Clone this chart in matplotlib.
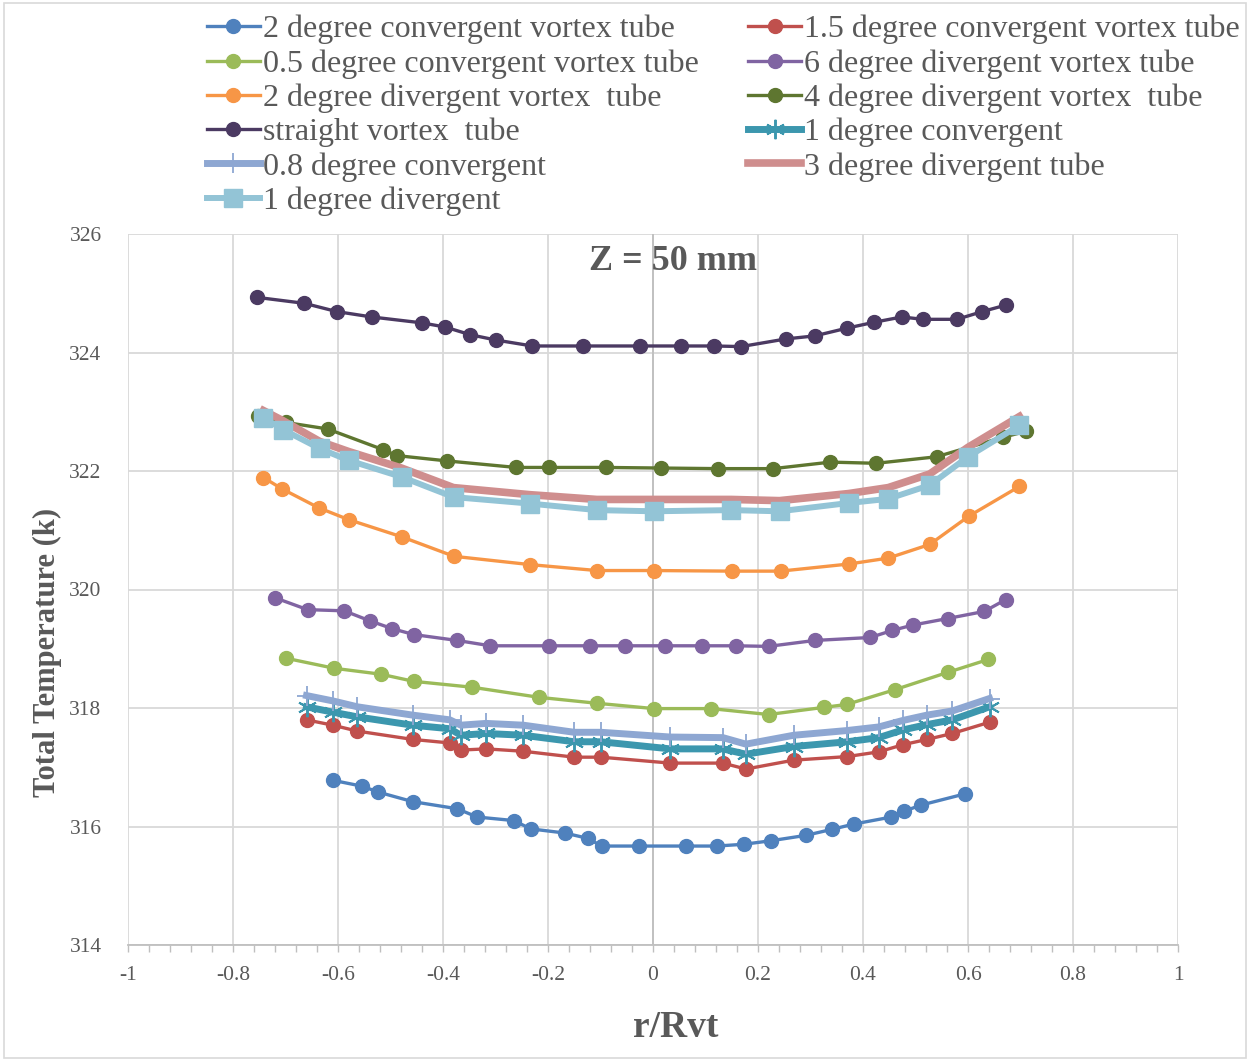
import matplotlib.pyplot as plt
from matplotlib.patches import Rectangle
from matplotlib.ticker import MultipleLocator

plt.rcParams['font.family'] = ['Liberation Serif', 'DejaVu Serif']

# --- data (r/Rvt, total temperature in K) ---
x_2conv = [-0.610, -0.554, -0.523, -0.458, -0.373, -0.335, -0.265, -0.233, -0.168, -0.124, -0.098, -0.027,
           0.063, 0.121, 0.173, 0.225, 0.291, 0.340, 0.382, 0.454, 0.479, 0.510, 0.594]
t_2conv = [316.78, 316.68, 316.58, 316.42, 316.30, 316.16, 316.10, 315.96, 315.89, 315.80, 315.67, 315.67,
           315.67, 315.67, 315.70, 315.76, 315.85, 315.95, 316.04, 316.16, 316.26, 316.36, 316.55]

x_15conv = [-0.660, -0.610, -0.563, -0.458, -0.387, -0.366, -0.318, -0.247, -0.150, -0.099,
            0.033, 0.133, 0.177, 0.268, 0.370, 0.430, 0.476, 0.522, 0.570, 0.641]
t_15conv = [317.80, 317.71, 317.61, 317.47, 317.41, 317.29, 317.31, 317.27, 317.17, 317.17,
            317.07, 317.07, 316.97, 317.12, 317.18, 317.26, 317.38, 317.47, 317.57, 317.76]

x_05conv = [-0.699, -0.607, -0.518, -0.456, -0.344, -0.217, -0.107, 0.002, 0.110, 0.220,
            0.325, 0.369, 0.461, 0.561, 0.639]
t_05conv = [318.84, 318.67, 318.57, 318.45, 318.35, 318.18, 318.08, 317.99, 317.99, 317.89,
            318.01, 318.06, 318.31, 318.60, 318.82]

x_6div = [-0.720, -0.658, -0.588, -0.539, -0.497, -0.456, -0.373, -0.310, -0.199, -0.120, -0.054,
          0.023, 0.093, 0.158, 0.220, 0.308, 0.414, 0.456, 0.495, 0.561, 0.631, 0.672]
t_6div = [319.86, 319.66, 319.64, 319.47, 319.34, 319.24, 319.14, 319.05, 319.05, 319.05, 319.05,
          319.05, 319.05, 319.05, 319.04, 319.14, 319.19, 319.31, 319.40, 319.51, 319.63, 319.83]

x_2div = [-0.742, -0.707, -0.637, -0.580, -0.479, -0.379, -0.234, -0.107, 0.001,
          0.151, 0.243, 0.373, 0.448, 0.527, 0.602, 0.698]
t_2div = [321.89, 321.70, 321.38, 321.18, 320.89, 320.56, 320.42, 320.32, 320.32,
          320.31, 320.31, 320.43, 320.53, 320.76, 321.24, 321.74]

x_4div = [-0.752, -0.700, -0.620, -0.514, -0.488, -0.392, -0.261, -0.199, -0.090, 0.015,
          0.124, 0.229, 0.338, 0.425, 0.540, 0.667, 0.711]
t_4div = [322.92, 322.82, 322.71, 322.36, 322.26, 322.17, 322.06, 322.06, 322.06, 322.05,
          322.04, 322.04, 322.15, 322.13, 322.24, 322.57, 322.67]

x_straight = [-0.754, -0.664, -0.602, -0.536, -0.440, -0.396, -0.348, -0.299, -0.230, -0.134, -0.024,
              0.054, 0.116, 0.168, 0.254, 0.308, 0.369, 0.421, 0.474, 0.514, 0.579, 0.627, 0.672]
t_straight = [324.93, 324.83, 324.69, 324.60, 324.50, 324.43, 324.30, 324.21, 324.11, 324.11, 324.11,
              324.11, 324.11, 324.10, 324.23, 324.28, 324.41, 324.51, 324.60, 324.56, 324.56, 324.69, 324.80]

x_1conv = [-0.660, -0.610, -0.563, -0.458, -0.387, -0.366, -0.318, -0.247, -0.150, -0.099,
           0.033, 0.133, 0.177, 0.268, 0.370, 0.430, 0.476, 0.522, 0.570, 0.641]
t_1conv = [318.02, 317.93, 317.85, 317.71, 317.65, 317.54, 317.57, 317.54, 317.43, 317.43,
           317.31, 317.31, 317.22, 317.35, 317.43, 317.50, 317.63, 317.72, 317.80, 318.02]

x_08conv = [-0.660, -0.610, -0.563, -0.458, -0.387, -0.366, -0.318, -0.247, -0.150, -0.099,
            0.033, 0.133, 0.177, 0.268, 0.370, 0.430, 0.476, 0.522, 0.570, 0.641]
t_08conv = [318.21, 318.12, 318.02, 317.88, 317.80, 317.71, 317.74, 317.71, 317.59, 317.59,
            317.51, 317.50, 317.39, 317.54, 317.62, 317.68, 317.79, 317.88, 317.95, 318.16]

x_3div = [-0.742, -0.705, -0.635, -0.580, -0.479, -0.380, -0.234, -0.107, 0.001,
          0.149, 0.241, 0.373, 0.448, 0.527, 0.600, 0.698]
t_3div = [323.02, 322.85, 322.50, 322.33, 322.05, 321.72, 321.60, 321.52, 321.52,
          321.52, 321.50, 321.62, 321.72, 321.95, 322.40, 322.92]

x_1div = [-0.742, -0.705, -0.635, -0.580, -0.479, -0.380, -0.234, -0.107, 0.001,
          0.149, 0.241, 0.373, 0.448, 0.527, 0.600, 0.698]
t_1div = [322.90, 322.70, 322.38, 322.18, 321.90, 321.56, 321.45, 321.34, 321.32,
          321.34, 321.32, 321.46, 321.53, 321.76, 322.24, 322.77]

x_ticks = [-1, -0.8, -0.6, -0.4, -0.2, 0, 0.2, 0.4, 0.6, 0.8, 1]
x_tick_labels = ['-1', '-0.8', '-0.6', '-0.4', '-0.2', '0', '0.2', '0.4', '0.6', '0.8', '1']
y_ticks = [314, 316, 318, 320, 322, 324, 326]

grey = '#595959'

fig = plt.figure(figsize=(12.5, 10.61), dpi=100)
ax = fig.add_axes([128 / 1250, 116 / 1061, 1050 / 1250, 711 / 1061])

# chart border
fig.patches.append(Rectangle((0.003, 0.003), 0.994, 0.994, transform=fig.transFigure,
                             fill=False, edgecolor='#D9D9D9', linewidth=1.2))

circ = dict(marker='o', markersize=10, linewidth=2.4)
ax.plot(x_2conv, t_2conv, color='#4F81BD', label='2 degree convergent vortex tube', **circ)
ax.plot(x_15conv, t_15conv, color='#C0504D', label='1.5 degree convergent vortex tube', **circ)
ax.plot(x_05conv, t_05conv, color='#9BBB59', label='0.5 degree convergent vortex tube', **circ)
ax.plot(x_6div, t_6div, color='#8064A2', label='6 degree divergent vortex tube', **circ)
ax.plot(x_2div, t_2div, color='#F79646', label='2 degree divergent vortex  tube', **circ)
ax.plot(x_4div, t_4div, color='#5E7630', label='4 degree divergent vortex  tube', **circ)
ax.plot(x_straight, t_straight, color='#4B3A62', label='straight vortex  tube', **circ)
ax.plot(x_1conv, t_1conv, color='#3C97AE', linewidth=5, marker=(6, 2, 0), markersize=14,
        markeredgewidth=1.4, label='1 degree convergent')
ax.plot(x_08conv, t_08conv, color='#8EA7D2', linewidth=5, marker='+', markersize=14,
        markeredgewidth=1.3, label='0.8 degree convergent')
ax.plot(x_3div, t_3div, color='#CF8E8E', linewidth=5.5, label='3 degree divergent tube')
ax.plot(x_1div, t_1div, color='#93C4D6', linewidth=4.3, marker='s', markersize=13,
        label='1 degree divergent')

ax.set_xlim(-1, 1)
ax.set_ylim(314, 326)
ax.set_xticks(x_ticks)
ax.set_xticklabels(x_tick_labels)
ax.xaxis.set_minor_locator(MultipleLocator(0.04))
ax.set_yticks(y_ticks)
ax.grid(True, which='major', color='#D9D9D9', linewidth=1.3)
ax.set_axisbelow(True)
ax.axvline(0, color='#BFBFBF', linewidth=1.3, zorder=1)

for s in ['top', 'right', 'left']:
    ax.spines[s].set_visible(False)
ax.spines['bottom'].set_color('#BFBFBF')
ax.spines['bottom'].set_linewidth(1.3)
ax.tick_params(axis='x', which='both', direction='out', length=5, width=1, color='#BFBFBF',
               labelsize=15.5, labelcolor=grey, pad=10)
ax.tick_params(axis='y', length=0, labelsize=15.5, labelcolor=grey, pad=19)

ax.set_xlabel('r/Rvt', fontsize=27, fontweight='bold', color=grey)
ax.xaxis.set_label_coords(0.522, -0.1167)
ax.xaxis.label.set_va('center')
ax.set_ylabel('Total Temperature (k)', fontsize=22, fontweight='bold', color=grey)
ax.yaxis.set_label_coords(-0.077, 0.412)
ax.yaxis.label.set_va('center')

ax.text(0.519, 0.962, 'Z = 50 mm', transform=ax.transAxes, ha='center', va='center',
        fontsize=26, fontweight='bold', color=grey)

# legend in the same row-major order as the original (two columns)
handles, labels = ax.get_legend_handles_labels()
order = [0, 2, 4, 6, 8, 10, 1, 3, 5, 7, 9]
leg = fig.legend([handles[i] for i in order], [labels[i] for i in order], ncol=2,
                 loc='upper left', bbox_to_anchor=(207 / 1250, 1 - 15 / 1061), frameon=False,
                 fontsize=23, labelspacing=0.15, handlelength=1.65, handletextpad=0.1,
                 columnspacing=1.55, borderpad=0, borderaxespad=0)
for t in leg.get_texts():
    t.set_color(grey)

fig.savefig('out.png', dpi=100)
